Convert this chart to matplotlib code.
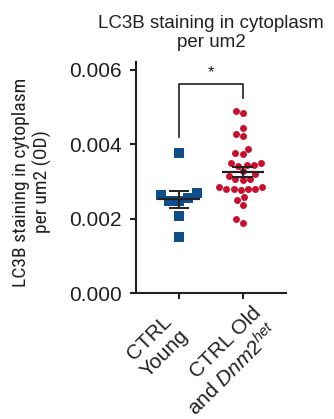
import numpy as np
import matplotlib
matplotlib.use("Agg")
import matplotlib.pyplot as plt
from matplotlib.transforms import ScaledTranslation
import seaborn as sns

# ---- data ----
categories = ["CTRL\nYoung", "CTRL Old\nand $\\mathit{Dnm2}^{\\mathit{het}}$"]
young_values = [0.00377, 0.00269, 0.00265, 0.00257, 0.00248, 0.00248, 0.00207, 0.00150]
old_values = [0.00483, 0.00488, 0.00445, 0.00422, 0.00428, 0.00387, 0.00374, 0.00376,
              0.00351, 0.00344, 0.00344, 0.00343, 0.00349, 0.00329, 0.00320, 0.00315,
              0.00307, 0.00304, 0.00307, 0.00285, 0.00276, 0.00279, 0.00279, 0.00279,
              0.00279, 0.00285, 0.00259, 0.00250, 0.00237, 0.00190, 0.00200]
yticks = [0.000, 0.002, 0.004, 0.006]
ytick_labels = ["0.000", "0.002", "0.004", "0.006"]
sig_label = "*"
title = "LC3B staining in cytoplasm\nper um2"
ylabel = "LC3B staining in cytoplasm\nper um2 (OD)"

BLUE = "#0E4F8B"
RED = "#C8102E"
INK = "#231F20"

plt.rcParams['font.family'] = ['Liberation Sans', 'DejaVu Sans']
plt.rcParams['mathtext.fontset'] = 'custom'
plt.rcParams['mathtext.rm'] = 'Liberation Sans'
plt.rcParams['mathtext.it'] = 'Liberation Sans:italic'

W, H = 334, 419
fig = plt.figure(figsize=(W / 100, H / 100), dpi=100)
ax = fig.add_axes([136.0 / W, 1 - 293.3 / H, 150 / W, (293.3 - 62.3) / H])

xpos = [0, 1]
groups = [young_values, old_values]
sns.swarmplot(x=np.zeros(len(young_values)), y=young_values, native_scale=True,
              marker="s", color=BLUE, size=7.0, linewidth=0, ax=ax)
sns.swarmplot(x=np.ones(len(old_values)), y=old_values, native_scale=True,
              marker="o", color=RED, size=5.0, linewidth=0, ax=ax)

for xp, vals in zip(xpos, groups):
    v = np.asarray(vals)
    m = v.mean()
    sem = v.std(ddof=1) / np.sqrt(len(v))
    ax.hlines(m, xp - 0.33, xp + 0.33, color=INK, lw=1.6, zorder=5)
    ax.vlines(xp, m - sem, m + sem, color=INK, lw=1.4, zorder=5)
    ax.hlines([m - sem, m + sem], xp - 0.16, xp + 0.16, color=INK, lw=1.4, zorder=5)

top = 0.00561
ax.plot([0, 0, 1, 1], [0.0042, top, top, 0.00523], color=INK, lw=1.2, clip_on=False)
ax.text(0.5, top + 0.00012, sig_label, ha="center", va="bottom", fontsize=12, color=INK)

ax.set_xlim(-0.67, 1.68)
ax.set_ylim(0, 0.0062)
ax.set_yticks(yticks)
ax.set_yticklabels(ytick_labels, fontsize=15, color=INK)
ax.set_xticks(xpos)
ax.set_xticklabels(categories, fontsize=15, rotation=45, ha="center", va="center",
                   rotation_mode="anchor", color=INK)
ax.set_xlabel("")
ax.spines[["top", "right"]].set_visible(False)
for s in ["left", "bottom"]:
    ax.spines[s].set_linewidth(1.5)
    ax.spines[s].set_color(INK)
ax.tick_params(axis="y", width=1.5, length=4.6, color=INK, pad=5.5)
ax.tick_params(axis="x", width=1.5, length=4.6, color=INK, pad=2)

# rotated category labels: shift block centres (pixels) from their anchor
anchor_y = 293.3 + (4.6 + 2) / 72 * 100
targets = [(157.0, 345.5), (226.0, 362.0)]
tick_px = [179.0, 243.3]
xl = ax.get_xticklabels()
xl[1].set_multialignment("right")
for lab, (tx, ty), px in zip(xl, targets, tick_px):
    dx = (tx - px) / 100
    dy = -(ty - anchor_y) / 100
    lab.set_transform(lab.get_transform() + ScaledTranslation(dx, dy, fig.dpi_scale_trans))

fig.text(211.3 / W, 1 - 33 / H, title, ha="center", va="center", fontsize=13.5,
         color=INK, linespacing=1.15)
fig.text(32 / W, 1 - 182 / H, ylabel, ha="center", va="center", rotation=90,
         fontsize=14, color=INK, linespacing=1.2,
         family=['Roboto Condensed', 'Liberation Sans', 'DejaVu Sans'])

fig.savefig("out.png", dpi=100)
